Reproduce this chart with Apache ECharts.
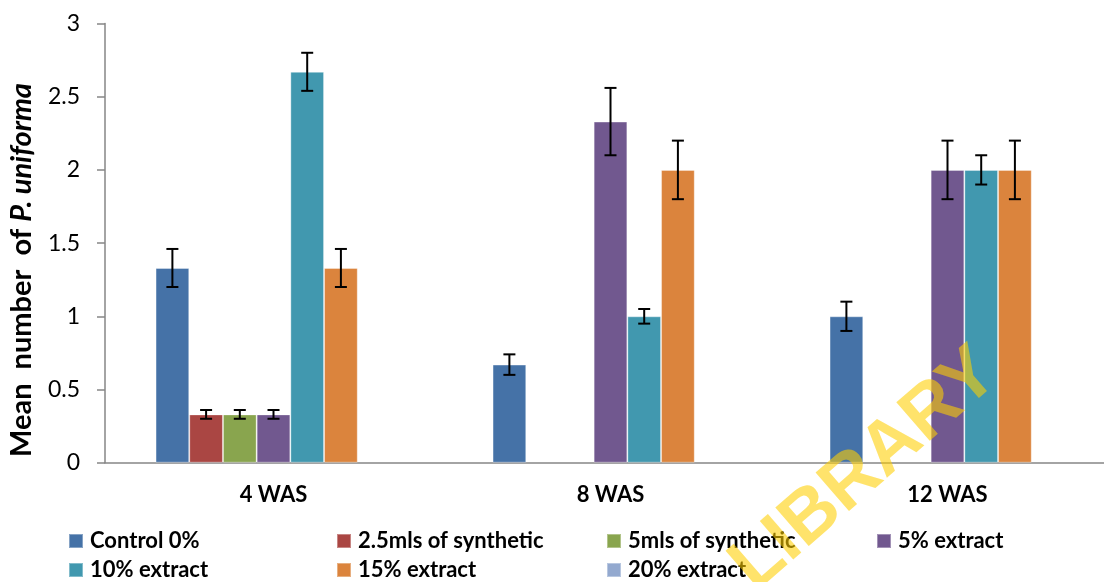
<!DOCTYPE html>
<html>
<head>
<meta charset="utf-8">
<script src="https://cdn.jsdelivr.net/npm/echarts@6/dist/echarts.min.js"></script>
<style>html,body{margin:0;padding:0;background:#fff}#chart{width:1104px;height:582px}</style>
</head>
<body>
<div id="chart"></div>
<script>
/* data */
const categories = ['4 WAS', '8 WAS', '12 WAS'];
const seriesNames = ['Control 0%', '2.5mls of synthetic', '5mls of synthetic', '5% extract', '10% extract', '15% extract', '20% extract'];
const colors = ['#4572A7', '#AA4643', '#89A54E', '#71588F', '#4198AF', '#DB843D', '#93A9CF'];

const control   = [1.33, 0.67, 1.0];
const synth25   = [0.33, null, null];
const synth5    = [0.33, null, null];
const ext5      = [0.33, 2.33, 2.0];
const ext10     = [2.67, 1.0, 2.0];
const ext15     = [1.33, 2.0, 2.0];
const ext20     = [null, null, null];

const errControl = [0.13, 0.07, 0.1];
const errSynth25 = [0.03, null, null];
const errSynth5  = [0.03, null, null];
const errExt5    = [0.03, 0.23, 0.2];
const errExt10   = [0.13, 0.05, 0.1];
const errExt15   = [0.13, 0.2, 0.2];
const errExt20   = [null, null, null];

const yTicks = { min: 0, max: 3, interval: 0.5 };

const values = [control, synth25, synth5, ext5, ext10, ext15, ext20];
const errors = [errControl, errSynth25, errSynth5, errExt5, errExt10, errExt15, errExt20];

const FONT = 'Lato';
const CAT_GAP = 0.3;
const N = seriesNames.length;

const errData = [];
values.forEach((vals, si) => vals.forEach((v, ci) => {
  const e = errors[si][ci];
  if (v != null && e != null) errData.push([ci, si, v - e, v + e]);
}));

const chart = echarts.init(document.getElementById('chart'), null, { renderer: 'canvas' });

// legend: 4 columns x 2 rows
const legCols = [68, 336, 606, 876];
const legRows = [530, 559];
const legends = seriesNames.map((n, i) => ({
  data: [n], left: legCols[i % 4], top: legRows[Math.floor(i / 4)],
  padding: 0, itemWidth: 14, itemHeight: 14, icon: 'rect', selectedMode: false,
  textStyle: { fontFamily: FONT, fontWeight: 'bold', fontSize: 22, color: '#000', padding: [0, 0, 0, 2] },
}));

chart.setOption({
  animation: false,
  color: colors,
  // plot runs past the right edge of the picture (cropped source)
  grid: { left: 105, top: 23.5, width: 1011, height: 439.2, containLabel: false, outerBoundsMode: 'none' },
  legend: legends,
  xAxis: {
    type: 'category', data: categories,
    axisLine: { lineStyle: { color: '#868686', width: 1.5 } },
    axisTick: { show: false },
    axisLabel: { fontFamily: FONT, fontWeight: 'bold', fontSize: 22, color: '#000', margin: 21 },
  },
  yAxis: {
    type: 'value', min: yTicks.min, max: yTicks.max, interval: yTicks.interval,
    axisLine: { show: true, lineStyle: { color: '#868686', width: 1.5 } },
    axisTick: { show: true, length: 8, lineStyle: { color: '#868686', width: 1.5 } },
    splitLine: { show: false },
    axisLabel: { fontFamily: FONT, fontSize: 23, color: '#000', margin: 25 },
  },
  series: seriesNames.map((n, i) => ({
    name: n, type: 'bar', data: values[i], barGap: '0%', barCategoryGap: (CAT_GAP * 100) + '%',
    itemStyle: { color: colors[i], borderColor: 'rgba(255,255,255,0.35)', borderWidth: 1 },
  })).concat([{
    type: 'custom', name: 'err', data: errData, z: 5,
    encode: { x: 0, y: [2, 3] },
    renderItem: (params, api) => {
      const ci = api.value(0), si = api.value(1);
      const lo = api.coord([ci, api.value(2)]);
      const hi = api.coord([ci, api.value(3)]);
      const bw = api.size([1, 0])[0] * (1 - CAT_GAP) / N;
      const x = lo[0] + (si - (N - 1) / 2) * bw;
      const cap = 6;
      const st = { stroke: '#000', lineWidth: 2 };
      return { type: 'group', children: [
        { type: 'line', shape: { x1: x, y1: lo[1], x2: x, y2: hi[1] }, style: st },
        { type: 'line', shape: { x1: x - cap, y1: lo[1], x2: x + cap, y2: lo[1] }, style: st },
        { type: 'line', shape: { x1: x - cap, y1: hi[1], x2: x + cap, y2: hi[1] }, style: st },
      ] };
    },
  }]),
  graphic: [
    {
      type: 'text', x: 22, y: 270, rotation: Math.PI / 2,
      style: {
        text: '{b|Mean  number  of }{i|P. uniforma}',
        align: 'center', verticalAlign: 'middle',
        rich: {
          b: { fontFamily: FONT, fontWeight: 'bold', fontSize: 29, fill: '#000' },
          i: { fontFamily: FONT, fontWeight: 'bold', fontStyle: 'italic', fontSize: 29, fill: '#000' },
        },
      },
    },
    {
      type: 'text', x: 865, y: 470, rotation: 41 * Math.PI / 180, z: 100,
      style: {
        text: 'LIBRARY', align: 'center', verticalAlign: 'middle',
        font: 'bold 74px "Liberation Sans"', fill: 'rgba(255,206,0,0.58)',
      },
    },
  ],
});
</script>
</body>
</html>
